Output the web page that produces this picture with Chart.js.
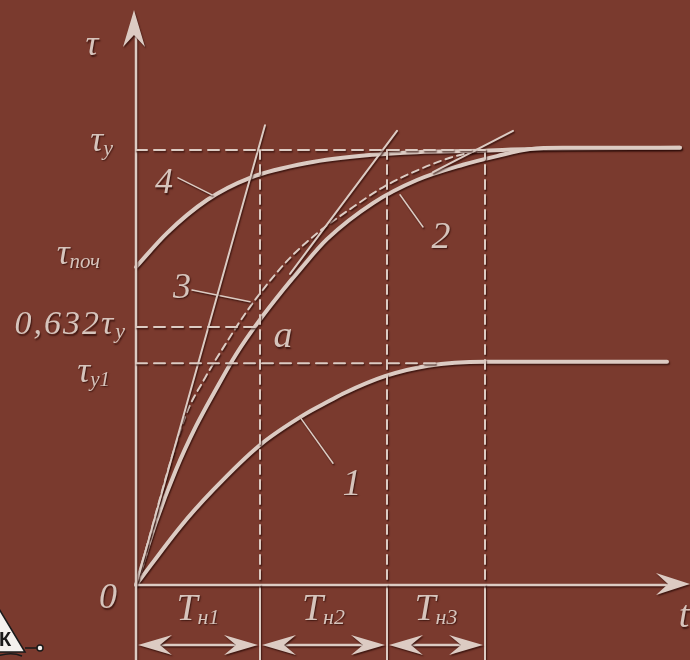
<!DOCTYPE html>
<html>
<head>
<meta charset="utf-8">
<script src="https://cdn.jsdelivr.net/npm/chart.js@4.4.1/dist/chart.umd.min.js"></script>
<style>
  html, body { margin: 0; padding: 0; background: #7a3a2e; }
  canvas { display: block; }
</style>
</head>
<body>
<canvas id="heat" width="690" height="660"></canvas>
<script>
// levels of temperature rise (tau), in % of tau_y as drawn
const tauY = 100;
const tauY1 = 51.0;
const tauPoch = 73.1;
const tau632 = 59.3;

// time marks T_н1, T_н2, T_н3 (end of each interval)
const tMarks = [12.4, 25.1, 34.9];
const tLabels = ['н1', 'н2', 'н3'];

// curves [t, tau]
const curve1 = [[0, 0], [4.4, 13.3], [7.7, 21.8], [12.4, 32.2], [16.7, 39.0], [19.4, 42.4],
  [20.9, 44.2], [24.9, 48.0], [29.2, 50.4], [34.9, 51.3], [53.1, 51.3]];
const curve2 = [[0, 0], [2, 14.5], [4, 26.5], [6, 36.5], [8, 45], [10, 53], [12.4, 61],
  [14.7, 67.8], [16.4, 72.5], [19.1, 79.5], [23.7, 87.8], [28.1, 93.1], [32.7, 96.6],
  [36.1, 98.6], [39.4, 100.2], [42.7, 100.5], [54.4, 100.5]];
const curve3 = [[0, 0], [4.9, 38.6], [6.9, 47.6], [8.9, 55.2], [10.9, 62.3], [12.9, 68.5],
  [15.4, 75.2], [18.4, 81.4], [21.4, 86.4], [24.9, 91.7], [28.4, 95.6], [31.4, 98.2], [34.4, 100]];
const curve4 = [[0, tauPoch], [3.1, 80.9], [7.1, 88.5], [11.4, 93.6], [17.1, 97.0], [23.7, 98.9],
  [28.1, 99.5], [34.4, 99.8], [39.4, 100.2], [54.4, 100.5]];

// tangent lines
const tangentA = [[0, 0], [12.9, 105.7]];
const tangentB = [[15.4, 71.5], [26.1, 104.4]];
const tangentC = [[29.7, 94.9], [37.7, 104.4]];

// leader lines of the curve numbers
const lead1 = [[16.4, 38.6], [19.7, 28.0]];
const lead2 = [[26.4, 89.7], [28.7, 82.3]];
const lead3 = [[5.6, 67.8], [11.4, 65.1]];
const lead4 = [[4.2, 93.6], [7.6, 89.7]];

const X_MIN = -13.6, X_MAX = 55.4;
const Y_MIN = -17.24, Y_MAX = 134.48;
const ARROW_Y = -13.8;

const INK = '#dccbc3';
const TXT = '#d6c4bc';

const pts = arr => arr.map(p => ({ x: p[0], y: p[1] }));

function ds(data, width, dash, smooth) {
  return {
    data: pts(data),
    borderColor: INK,
    borderWidth: width,
    borderDash: dash || [],
    borderCapStyle: 'round',
    pointRadius: 0,
    fill: false,
    tension: smooth ? 0.4 : 0,
    cubicInterpolationMode: smooth ? 'monotone' : 'default'
  };
}

const datasets = [];
// dashed guides
datasets.push(ds([[0, tauY], [tMarks[2], tauY]], 2, [11, 7]));
datasets.push(ds([[0, tau632], [tMarks[0], tau632]], 2, [11, 7]));
datasets.push(ds([[0, tauY1], [30, tauY1]], 2, [11, 7]));
tMarks.forEach(t => datasets.push(ds([[t, tauY], [t, 0]], 2, [9, 6])));
// axes and interval marks
datasets.push(ds([[0, Y_MIN], [0, 128]], 2.5));
datasets.push(ds([[0, 0], [54, 0]], 2.5));
tMarks.forEach(t => datasets.push(ds([[t, 0], [t, Y_MIN]], 2)));
[0].concat(tMarks).slice(0, 3).forEach((t, i) =>
  datasets.push(ds([[t + 1.5, ARROW_Y], [tMarks[i] - 1.5, ARROW_Y]], 2.5)));
// tangents and leaders
[tangentA, tangentB, tangentC].forEach(l => datasets.push(ds(l, 2)));
[lead1, lead2, lead3, lead4].forEach(l => datasets.push(ds(l, 1.5)));
// curves
datasets.push(ds(curve3, 2, [7, 5], true));
datasets.push(ds(curve1, 4, null, true));
datasets.push(ds(curve2, 4, null, true));
datasets.push(ds(curve4, 4, null, true));

const emboss = {
  id: 'emboss',
  beforeDraw(chart) {
    const c = chart.ctx;
    c.save();
    c.fillStyle = '#7a3a2e';
    c.fillRect(0, 0, chart.width, chart.height);
    c.restore();
  },
  beforeDatasetsDraw(chart) {
    const c = chart.ctx;
    c.save();
    c.shadowColor = 'rgba(45,12,8,0.75)';
    c.shadowOffsetX = 1;
    c.shadowOffsetY = 1.5;
    c.shadowBlur = 1.5;
  },
  afterDatasetsDraw(chart) {
    chart.ctx.restore();
  }
};

function head(c, tx, ty, dx, dy, len, half, back) {
  const px = -dy, py = dx;
  const bx = tx - dx * len, by = ty - dy * len;
  c.beginPath();
  c.moveTo(tx, ty);
  c.lineTo(bx + px * half, by + py * half);
  c.lineTo(tx - dx * (len - back), ty - dy * (len - back));
  c.lineTo(bx - px * half, by - py * half);
  c.closePath();
  c.fill();
}

function label(c, x, y, main, sub, size, subSize, align, spacing) {
  c.letterSpacing = spacing || '0px';
  c.font = 'italic ' + size + 'px "Liberation Serif"';
  const w1 = c.measureText(main).width;
  c.font = 'italic ' + subSize + 'px "Liberation Serif"';
  const w2 = sub ? c.measureText(sub).width : 0;
  let x0 = x;
  if (align === 'right') x0 = x - w1 - w2;
  if (align === 'center') x0 = x - (w1 + w2) / 2;
  c.font = 'italic ' + size + 'px "Liberation Serif"';
  c.fillText(main, x0, y);
  if (sub) {
    c.font = 'italic ' + subSize + 'px "Liberation Serif"';
    c.fillText(sub, x0 + w1, y + 4);
  }
}

const decor = {
  id: 'decor',
  afterDatasetsDraw(chart) {
    const c = chart.ctx;
    const X = v => chart.scales.x.getPixelForValue(v);
    const Y = v => chart.scales.y.getPixelForValue(v);
    c.save();
    c.shadowColor = 'rgba(45,12,8,0.75)';
    c.shadowOffsetX = 1;
    c.shadowOffsetY = 1.5;
    c.shadowBlur = 1.5;
    c.fillStyle = INK;
    // axis arrow heads
    head(c, X(0) - 2, Y(132.2), 0, -1, 37, 11, 12);
    head(c, X(55.4), Y(0) - 1, 1, 0, 34, 11, 12);
    // interval arrows
    const ends = [0].concat(tMarks);
    for (let i = 0; i < 3; i++) {
      head(c, X(ends[i]) + 2, Y(ARROW_Y), -1, 0, 34, 10, 12);
      head(c, X(ends[i + 1]) - 2, Y(ARROW_Y), 1, 0, 34, 10, 12);
    }
    // texts
    c.fillStyle = TXT;
    c.textBaseline = 'alphabetic';
    label(c, X(-4.4), Y(121.8), 'τ', '', 36, 22, 'center');
    label(c, X(-2.3), Y(99.8), 'τ', 'y', 36, 22, 'right');
    label(c, X(-3.6), Y(73.8), 'τ', 'поч', 36, 21, 'right');
    label(c, X(-0.9), Y(57.7), '0,632τ', 'y', 34, 22, 'right', '2px');
    label(c, X(-2.6), Y(46.7), 'τ', 'y1', 36, 21, 'right');
    label(c, X(-2.8), Y(-5.3), '0', '', 36, 22, 'center');
    label(c, X(54.8), Y(-9.7), 't', '', 38, 22, 'center');
    label(c, X(2.8), Y(90.1), '4', '', 36, 22, 'center');
    label(c, X(4.6), Y(66.0), '3', '', 36, 22, 'center');
    label(c, X(30.5), Y(77.5), '2', '', 38, 22, 'center');
    label(c, X(21.6), Y(20.7), '1', '', 38, 22, 'center');
    label(c, X(14.7), Y(54.7), 'a', '', 38, 22, 'center');
    for (let i = 0; i < 3; i++) {
      label(c, X((ends[i] + ends[i + 1]) / 2), Y(-8.0), 'T', tLabels[i], 38, 22, 'center');
    }
    c.restore();

    // corner logo (cut off by the edge)
    c.save();
    c.fillStyle = '#f4f1ee';
    c.strokeStyle = '#1a1a1a';
    c.lineWidth = 1.5;
    c.beginPath();
    c.moveTo(-10, 594);
    c.lineTo(25, 652);
    c.lineTo(-10, 652);
    c.closePath();
    c.fill();
    c.stroke();
    c.beginPath();
    c.moveTo(25, 648);
    c.lineTo(38, 648);
    c.stroke();
    c.beginPath();
    c.arc(40, 648, 3, 0, Math.PI * 2);
    c.fill();
    c.stroke();
    c.beginPath();
    c.moveTo(-5, 657);
    c.quadraticCurveTo(10, 651, 22, 656);
    c.stroke();
    c.fillStyle = '#1a1a1a';
    c.font = 'bold 20px "Liberation Sans"';
    c.fillText('К', -1, 646);
    c.restore();
  }
};

new Chart(document.getElementById('heat'), {
  type: 'line',
  data: { datasets: datasets },
  options: {
    responsive: false,
    animation: false,
    layout: { padding: 0 },
    parsing: false,
    plugins: {
      legend: { display: false },
      tooltip: { enabled: false }
    },
    scales: {
      x: { type: 'linear', display: false, min: X_MIN, max: X_MAX },
      y: { type: 'linear', display: false, min: Y_MIN, max: Y_MAX }
    }
  },
  plugins: [emboss, decor]
});
</script>
</body>
</html>
